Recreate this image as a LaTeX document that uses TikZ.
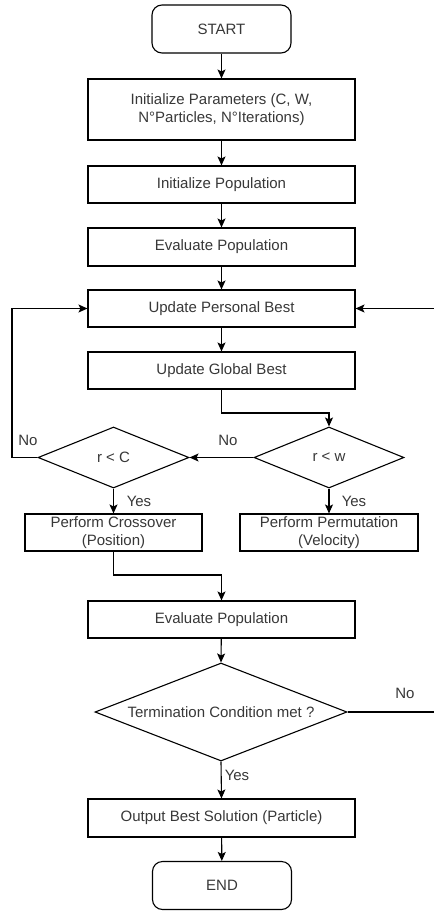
\documentclass[tikz,border=0pt]{standalone}
\usepackage{fontspec}
\setmainfont{Liberation Sans}
\usetikzlibrary{shapes.geometric,arrows.meta}
\begin{document}
\begin{tikzpicture}[x=1pt,y=-1pt,
  every node/.style={font=\fontsize{15}{18}\selectfont, text=black!78},
  proc/.style={draw=black, line width=1.1pt, rectangle, minimum width=267, minimum height=37, inner sep=0, align=center},
  halfproc/.style={proc, minimum width=177},
  term/.style={draw=black, line width=1.1pt, rectangle, rounded corners=10, minimum width=139, minimum height=48, inner sep=0},
  decision/.style={draw=black, line width=1.1pt, diamond, inner sep=0},
  flow/.style={draw=black, line width=1.1pt, -{Stealth[length=9, width=8, inset=2]}},
  plain/.style={draw=black, line width=1.1pt},
  lbl/.style={inner sep=0}]
\useasboundingbox (0,0) rectangle (434,911);
\fill[white] (0,0) rectangle (434,911);

% main column
\node[term] (start) at (221.5,29) {START};
\node[proc, minimum height=61] (params) at (221.5,109.5) {Initialize Parameters (C, W,\\N°Particles, N°Iterations)};
\node[proc] (initpop) at (221.5,184.5) {Initialize Population};
\node[proc, minimum height=38] (evalpop) at (221.5,247) {Evaluate Population};
\node[proc] (pbest) at (221.5,308.5) {Update Personal Best};
\node[proc] (gbest) at (221.5,370.5) {Update Global Best};

% the two random tests
\node[decision, minimum width=150, minimum height=61, aspect=2.46] (rw) at (329,457.5) {r < w};
\node[decision, minimum width=151, minimum height=61, aspect=2.48] (rc) at (113.5,457.5) {r < C};
\node[halfproc] (cross) at (113.5,532.5) {Perform Crossover\\(Position)};
\node[halfproc, minimum width=178] (perm) at (329,532.5) {Perform Permutation\\(Velocity)};

% evaluation and stopping test
\node[proc] (eval2) at (221.5,619.5) {Evaluate Population};
\node[decision, minimum width=252, minimum height=98, aspect=2.57] (stop) at (221,712) {Termination Condition met ?};
\node[proc, minimum height=38] (out) at (221.5,818) {Output Best Solution (Particle)};
\node[term] (end) at (222,885.5) {END};

% connector helpers
\coordinate (g1) at (221.5,413);
\coordinate (c1) at (12,457.5);
\coordinate (x1) at (113.5,575);
\coordinate (s1) at (434,712);
\coordinate (s2) at (434,308.5);

% connectors
\draw[flow] (start) -- (params);
\draw[flow] (params) -- (initpop);
\draw[flow] (initpop) -- (evalpop);
\draw[flow] (evalpop) -- (pbest);
\draw[flow] (pbest) -- (gbest);
\draw[flow] (gbest.south) -- (g1) -| (rw.north);
\draw[flow] (rw.west) -- (rc.east);
\draw[flow] (rc.west) -- (c1) |- (pbest.west);
\draw[flow] (rc.south) -- (cross.north);
\draw[flow] (rw.south) -- (perm.north);
\draw[flow] (cross.south) -- (x1) -| (eval2.north);
\draw[flow] (eval2) -- (stop.north);
\draw[plain] (stop.east) -- (s1);
\draw[flow] (s2) -- (pbest.east);
\draw[flow] (stop.south) -- (out.north);
\draw[flow] (out) -- (end);

% branch labels
\node[lbl] (no1) at (228,440) {No};
\node[lbl] (no2) at (28,440) {No};
\node[lbl] (yes1) at (139,501) {Yes};
\node[lbl] (yes2) at (354,501) {Yes};
\node[lbl] (no3) at (405,693) {No};
\node[lbl] (yes3) at (237,775) {Yes};
\end{tikzpicture}
\end{document}
